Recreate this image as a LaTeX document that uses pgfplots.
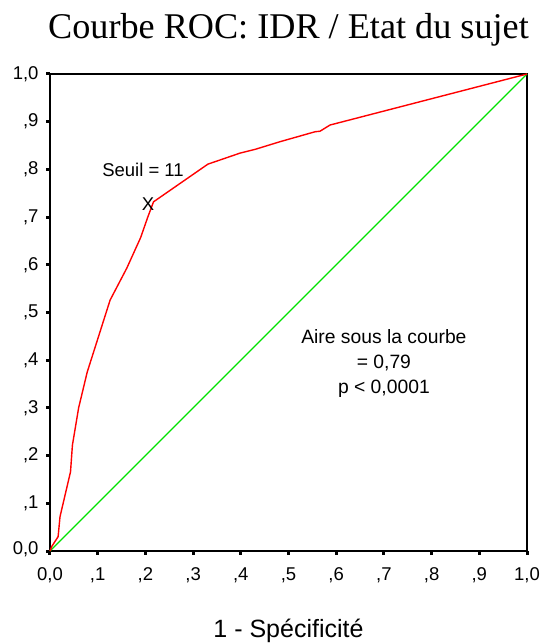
\documentclass[border=0pt]{standalone}
\usepackage{fontspec}
\setmainfont{Liberation Sans}
\newfontfamily\titlefont{Liberation Serif}
\usepackage{pgfplots}
\pgfplotsset{compat=1.18}
\definecolor{rocred}{RGB}{255,0,0}
\definecolor{rocgreen}{RGB}{0,225,0}
\begin{document}
\begin{tikzpicture}
\begin{axis}[
  scale only axis, width=477bp, height=477bp,
  xmin=0, xmax=1, ymin=0, ymax=1,
  clip=false,
  axis line style={line width=2bp, black},
  tick align=outside,
  xtick pos=left, ytick pos=left,
  major tick length=3.5bp,
  every tick/.style={black, line width=3bp},
  xtick={0,0.1,0.2,0.3,0.4,0.5,0.6,0.7,0.8,0.9,1},
  ytick={0,0.1,0.2,0.3,0.4,0.5,0.6,0.7,0.8,0.9,1},
  xticklabels={{0,0},{,1},{,2},{,3},{,4},{,5},{,6},{,7},{,8},{,9},{1,0}},
  yticklabels={{\raisebox{5bp}{0,0}},{,1},{,2},{,3},{,4},{,5},{,6},{,7},{,8},{,9},{1,0}},
  ticklabel style={font=\fontsize{18.5bp}{20bp}\selectfont},
  xticklabel style={yshift=-10bp},
  yticklabel style={xshift=-4.5bp},
]
\addplot[rocgreen, line width=1.4bp] coordinates {(0,0) (1,1)};
\addplot[rocred, line width=1.4bp] coordinates {
(0,0) (0.004,0.01) (0.017,0.03) (0.021,0.072) (0.043,0.166) (0.047,0.222)
(0.06,0.30) (0.078,0.375) (0.126,0.526) (0.161,0.593) (0.19,0.657)
(0.205,0.70) (0.217,0.732) (0.331,0.811) (0.398,0.834) (0.43,0.842)
(0.482,0.858) (0.556,0.879) (0.566,0.880) (0.587,0.893) (1,1)};
\node[font=\fontsize{18.5bp}{20bp}\selectfont] at (axis cs:0.195,0.80) {Seuil = 11};
\node[font=\fontsize{18.5bp}{20bp}\selectfont] at (axis cs:0.2055,0.727) {X};
\node[font=\fontsize{19.3bp}{25bp}\selectfont, align=center] at (axis cs:0.70,0.394)
  {Aire sous la courbe\\= 0,79\\p < 0,0001};
\node[anchor=base, inner sep=0pt, font=\titlefont\fontsize{36.2bp}{40bp}\selectfont]
  at ([yshift=35bp]rel axis cs:0.5,1) {Courbe ROC: IDR / Etat du sujet};
\node[anchor=base, inner sep=0pt, font=\fontsize{25bp}{27bp}\selectfont]
  at ([yshift=-86bp]rel axis cs:0.5,0) {1 - Spécificité};
\path ([xshift=-50bp,yshift=-93bp]rel axis cs:0,0) rectangle ([xshift=17bp,yshift=74bp]rel axis cs:1,1);
\end{axis}
\end{tikzpicture}
\end{document}
